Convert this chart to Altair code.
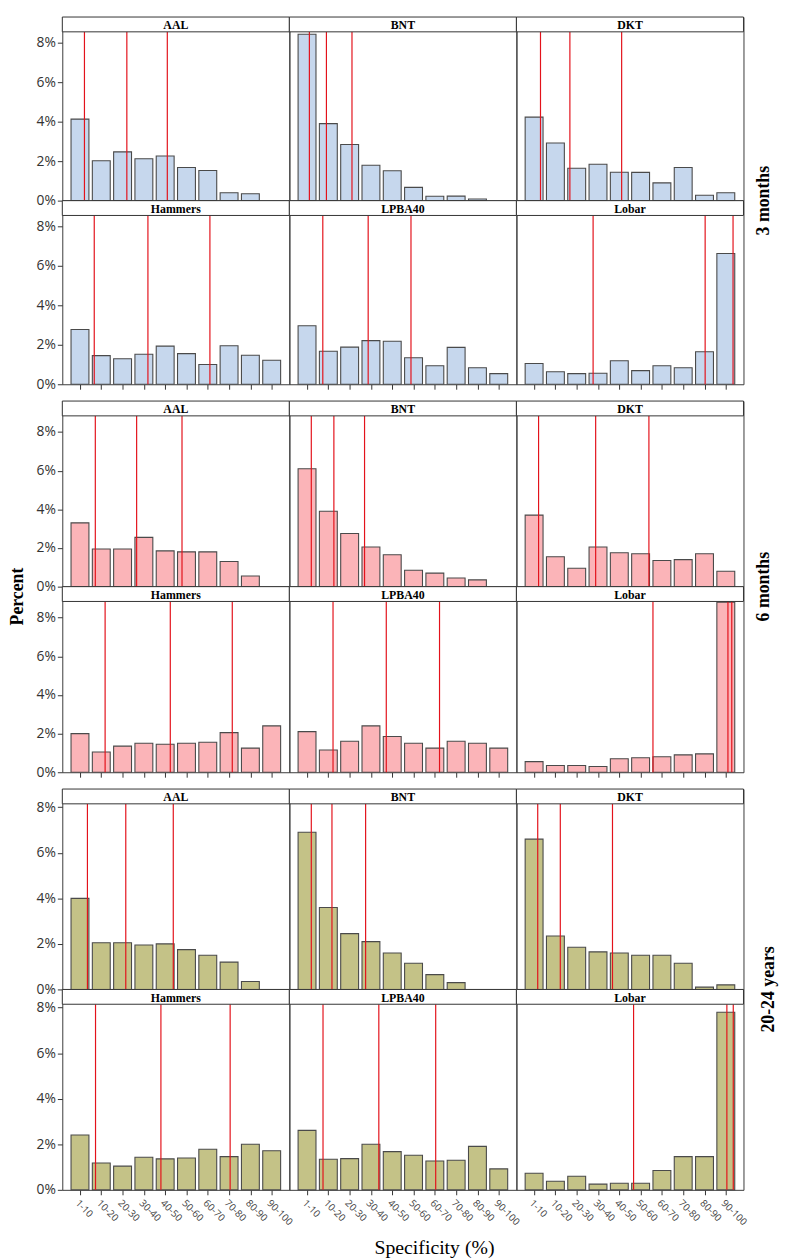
import altair as alt
import pandas as pd

bins = ["1-10", "10-20", "20-30", "30-40", "40-50", "50-60", "60-70", "70-80", "80-90", "90-100"]
atlases = ["AAL", "BNT", "DKT", "Hammers", "LPBA40", "Lobar"]
bin_centers = [5, 15, 25, 35, 45, 55, 65, 75, 85, 95]
group_labels = ["3 months", "6 months", "20-24 years"]

# ---- 3 months: percent per specificity bin ----
m3_AAL = [4.13, 2.02, 2.47, 2.12, 2.26, 1.68, 1.53, 0.40, 0.35, 0.0]
m3_BNT = [8.43, 3.90, 2.84, 1.79, 1.51, 0.67, 0.22, 0.23, 0.08, 0.0]
m3_DKT = [4.23, 2.92, 1.64, 1.84, 1.44, 1.43, 0.90, 1.68, 0.27, 0.40]
m3_Hammers = [2.77, 1.45, 1.29, 1.52, 1.93, 1.55, 1.00, 1.95, 1.47, 1.22]
m3_LPBA40 = [2.96, 1.67, 1.88, 2.21, 2.18, 1.34, 0.94, 1.87, 0.84, 0.54]
m3_Lobar = [1.05, 0.63, 0.54, 0.56, 1.19, 0.69, 0.94, 0.84, 1.65, 6.62]
# red reference lines (specificity %)
m3_lines_AAL = [7.1, 27.0, 46.0]
m3_lines_BNT = [6.1, 14.1, 26.1]
m3_lines_DKT = [8.0, 21.8, 46.1]
m3_lines_Hammers = [11.7, 36.9, 66.0]
m3_lines_LPBA40 = [12.4, 33.7, 53.8]
m3_lines_Lobar = [32.7, 85.3, 98.4]

# ---- 6 months ----
m6_AAL = [3.30, 1.95, 1.95, 2.55, 1.85, 1.80, 1.80, 1.30, 0.55, 0.0]
m6_BNT = [6.10, 3.90, 2.75, 2.05, 1.65, 0.85, 0.70, 0.45, 0.35, 0.0]
m6_DKT = [3.70, 1.55, 0.95, 2.05, 1.75, 1.70, 1.35, 1.40, 1.70, 0.80]
m6_Hammers = [2.00, 1.05, 1.35, 1.50, 1.45, 1.50, 1.55, 2.05, 1.25, 2.40]
m6_LPBA40 = [2.10, 1.15, 1.60, 2.40, 1.85, 1.50, 1.25, 1.60, 1.50, 1.25]
m6_Lobar = [0.55, 0.35, 0.35, 0.30, 0.70, 0.75, 0.80, 0.90, 0.95, 8.80]
m6_lines_AAL = [12.2, 31.6, 52.9]
m6_lines_BNT = [7.0, 17.6, 32.0]
m6_lines_DKT = [7.1, 33.9, 58.9]
m6_lines_Hammers = [16.8, 47.4, 76.5]
m6_lines_LPBA40 = [17.2, 42.2, 67.2]
m6_lines_Lobar = [60.8, 96.0, 97.8]

# ---- 20-24 years ----
y20_AAL = [4.00, 2.05, 2.05, 1.95, 2.00, 1.75, 1.50, 1.20, 0.35, 0.0]
y20_BNT = [6.90, 3.60, 2.45, 2.10, 1.60, 1.15, 0.65, 0.30, 0.0, 0.0]
y20_DKT = [6.60, 2.35, 1.85, 1.65, 1.60, 1.50, 1.50, 1.15, 0.10, 0.20]
y20_Hammers = [2.41, 1.18, 1.04, 1.43, 1.36, 1.40, 1.78, 1.46, 2.00, 1.72]
y20_LPBA40 = [2.61, 1.34, 1.37, 2.00, 1.68, 1.52, 1.27, 1.30, 1.91, 0.92]
y20_Lobar = [0.73, 0.38, 0.60, 0.25, 0.29, 0.29, 0.85, 1.46, 1.46, 7.80]
y20_lines_AAL = [8.5, 26.5, 48.8]
y20_lines_BNT = [7.0, 16.7, 32.5]
y20_lines_DKT = [6.7, 17.3, 41.8]
y20_lines_Hammers = [12.3, 43.0, 75.5]
y20_lines_LPBA40 = [12.5, 38.7, 65.4]
y20_lines_Lobar = [51.7, 95.5, 98.5]

W = 230
HEAD = 15
SERIF = "Liberation Serif"
SANS = "Open Sans"
YAXIS_W = 32
H1, H2, H3 = 186, 188, 203

label_js = "[" + ",".join("'%s'" % b for b in bins) + "][floor(datum.value / 10)]"


def panel(atlas, vals, lines, top, height, color, show_y, show_x, show_xlabels):
    bar_df = pd.DataFrame({
        "lo": [10 * i + 0.8 for i, v in enumerate(vals) if v > 0],
        "hi": [10 * i + 9.2 for i, v in enumerate(vals) if v > 0],
        "value": [v for v in vals if v > 0],
    })
    line_df = pd.DataFrame({"pos": lines})
    head_df = pd.DataFrame({"atlas": [atlas]})

    xscale = alt.Scale(domain=[-3.3, 103.3], nice=False, zero=False)
    yscale = alt.Scale(domain=[0, top], nice=False)
    if show_x:
        xaxis = alt.Axis(
            values=bin_centers, labelExpr=label_js, labels=show_xlabels, title=None,
            labelAngle=45, labelFont=SANS, labelFontSize=10, labelColor="#444",
            labelOverlap=False, labelPadding=3, labelBound=False,
            tickSize=5, tickColor="#333", domain=False, grid=False,
        )
    else:
        xaxis = None
    if show_y:
        yaxis = alt.Axis(
            values=[0, 2, 4, 6, 8], labelExpr="datum.value + '%'", title=None,
            labelFont=SANS, labelFontSize=14, labelColor="#333", minExtent=YAXIS_W,
            tickSize=5, tickColor="#333", domain=False, grid=False,
        )
    else:
        yaxis = None

    bars = alt.Chart(bar_df).mark_rect(fill=color, stroke="#4a4a4a", strokeWidth=1.1).encode(
        x=alt.X("lo:Q", scale=xscale, axis=xaxis),
        x2="hi:Q",
        y=alt.Y("value:Q", scale=yscale, axis=yaxis),
        y2=alt.datum(0),
    )
    rules = alt.Chart(line_df).mark_rule(color="#e3121b", strokeWidth=1.2).encode(
        x=alt.X("pos:Q", scale=xscale, axis=xaxis),
        y=alt.Y(datum=0, axis=yaxis),
        y2=alt.value(HEAD),
    )
    head = alt.Chart(head_df).mark_rect(fill="white", stroke="#333", strokeWidth=1).encode(
        x=alt.value(0), x2=alt.value(W), y=alt.value(0), y2=alt.value(HEAD),
    )
    htext = alt.Chart(head_df).mark_text(
        font=SERIF, fontWeight="bold", fontSize=12, baseline="middle", color="black"
    ).encode(
        x=alt.value(W / 2), y=alt.value(HEAD / 2 + 1), text="atlas:N",
    )
    return alt.layer(bars, rules, head, htext).properties(width=W, height=height)


def side_label(text, height, width=24):
    df = pd.DataFrame({"t": [text]})
    return alt.Chart(df).mark_text(
        angle=270, font=SERIF, fontWeight="bold", fontSize=18, color="black", baseline="middle"
    ).encode(
        text="t:N", x=alt.value(width / 2), y=alt.value(height / 2),
    ).properties(width=width, height=height, view=alt.ViewConfig(stroke=None))


def group_chart(prefix, top, height, color, label, show_xlabels):
    g = globals()
    cells = []
    for r in range(2):
        for c in range(3):
            a = atlases[r * 3 + c]
            cells.append(panel(a, g[prefix + "_" + a], g[prefix + "_lines_" + a], top, height,
                               color, c == 0, r == 1, show_xlabels and r == 1))
    grid = alt.concat(*cells, columns=3, spacing=0, bounds="flush")
    return alt.hconcat(grid, side_label(label, 2 * height), spacing=8)


g1 = group_chart("m3", 9.3, H1, "#c6d7ed", group_labels[0], False)
g2 = group_chart("m6", 9.6, H2, "#fbb4b8", group_labels[1], False)
g3 = group_chart("y20", 8.8, H3, "#c4c287", group_labels[2], True)

spec_df = pd.DataFrame({"t": ["Specificity (%)"]})
spec = alt.Chart(spec_df).mark_text(
    font=SERIF, fontSize=20, color="black", baseline="bottom"
).encode(
    text="t:N", x=alt.value(YAXIS_W + 1.5 * W), y=alt.value(22),
).properties(width=YAXIS_W + 3 * W, height=22, view=alt.ViewConfig(stroke=None))

body = alt.vconcat(g1, g2, g3, spec, spacing=8)
percent = side_label("Percent", 2 * (H1 + H2 + H3) + 20, width=20)

chart = alt.hconcat(percent, body, spacing=2).properties(
    padding=0,
).configure_view(stroke="#3a3a3a", strokeWidth=1)

chart.save("out.html", embed_options={"renderer": "svg", "actions": False})
